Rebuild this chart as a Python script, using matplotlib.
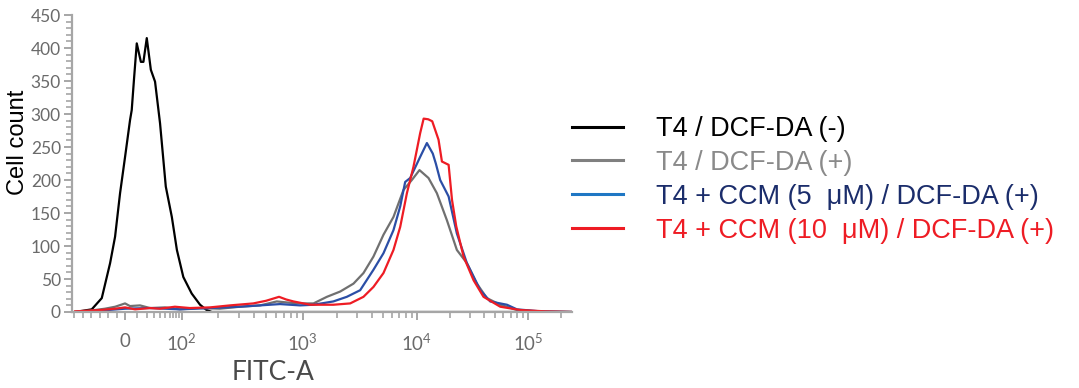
import numpy as np
import matplotlib
matplotlib.use("Agg")
import matplotlib.pyplot as plt
from matplotlib.ticker import FixedLocator, MultipleLocator

# ---------------- data ----------------
labels = ["T4 / DCF-DA (-)",
          "T4 / DCF-DA (+)",
          "T4 + CCM (5  \u03bcM) / DCF-DA (+)",
          "T4 + CCM (10  \u03bcM) / DCF-DA (+)"]

black_x = [-147, -98, -68.5, -44, -29.4, -14.7, 0, 4.1, 5.5, 7.5, 9.9, 13.8, 16.4, 20.1,
           25.1, 31, 39.2, 50.7, 65.8, 81.5, 103, 121, 142, 161, 178, 250, 1000, 250000]
black_y = [0, 4, 21, 74, 114, 180, 235, 291, 306, 354, 407, 379, 379, 415,
           367, 349, 286, 190, 144, 94, 53, 28, 11, 3, 0, 0, 0, 0]

gray_x = [-147, -103, -59, -29, 0, 4, 13, 24, 48.6, 92, 142, 207, 303, 444, 610, 785,
          1012, 1240, 1625, 2125, 2780, 3400, 4160, 5090, 6230, 7630, 9030, 10550,
          12720, 15130, 18630, 22900, 28200, 34700, 42700, 56300, 79600, 116000, 250000]
gray_y = [0, 2, 5, 8, 13, 9, 10, 6, 7, 4, 6, 5, 8, 10, 16, 14,
          13, 13, 23, 31, 43, 59, 84, 117, 144, 185, 200, 215,
          203, 180, 139, 94, 74, 43, 21, 11, 3, 1, 0]

blue_x = [-147, -73.5, 0, 24, 92, 172, 303, 649, 950, 1240, 1850, 2430, 3180, 4160,
          5090, 6230, 7140, 7890, 8730, 10700, 12300, 13900, 14800, 16200, 18000, 19300,
          22900, 28200, 37200, 45700, 64700, 79600, 129000, 250000]
blue_y = [0, 2, 5, 6, 4, 6, 8, 12, 10, 11, 16, 23, 33, 64,
          89, 124, 160, 197, 203, 235, 256, 240, 225, 200, 185, 175,
          119, 74, 33, 16, 11, 4, 1, 0]

red_x = [-147, -73.5, -29, 0, 8.4, 24, 39, 75, 117, 172, 251, 391, 498, 637, 728, 837,
         1160, 1850, 2600, 3400, 4160, 5090, 6230, 7140, 8170, 9330, 10700, 11500,
         12640, 13740, 15660, 16800, 19300, 20700, 22600, 26300, 32400, 39800, 56300,
         85300, 143000, 250000]
red_y = [1, 3, 5, 7, 4, 6, 5, 8, 6, 7, 10, 13, 17, 23, 19, 16,
         11, 11, 13, 23, 38, 59, 94, 129, 180, 220, 271, 293,
         292, 289, 261, 228, 223, 170, 130, 84, 48, 23, 8,
         3, 1, 0]

curve_colors = ["#000000", "#707070", "#2b4ea6", "#ee1c24"]
legend_line_colors = ["#000000", "#808080", "#1f77c4", "#ee1c24"]
legend_text_colors = ["#000000", "#8a8a8a", "#1b2d6b", "#ee1c24"]

major_ticks = [0, 100, 1e3, 1e4, 1e5]
major_labels = ["0", r"$\mathregular{10^2}$", r"$\mathregular{10^3}$",
                r"$\mathregular{10^4}$", r"$\mathregular{10^5}$"]

# ---------------- biexponential-like display scale ----------------
ANCH_V = np.array([0, 100, 1e3, 1e4, 1e5, 262144, 1e9])
ANCH_P = np.array([125, 181.7, 302.7, 416.7, 527.7, 574.0, 971.7])
ANCH_A = np.arcsinh(ANCH_V / 20.0)
NEG_SLOPE = 51.0 / 150.0


def fwd(x):
    x = np.asarray(x, dtype=float)
    a = np.arcsinh(np.clip(x, 0, None) / 20.0)
    p = np.interp(a, ANCH_A, ANCH_P)
    return np.where(x < 0, 125 + x * NEG_SLOPE, p)


def inv(p):
    p = np.asarray(p, dtype=float)
    a = np.interp(p, ANCH_P, ANCH_A)
    return np.where(p < 125, (p - 125) / NEG_SLOPE, 20.0 * np.sinh(a))


plt.rcParams["mathtext.default"] = "regular"

# ---------------- figure ----------------
W, H = 1079, 388
fig = plt.figure(figsize=(W / 100, H / 100), dpi=100)
ax = fig.add_axes([72 / W, 1 - 312 / H, 500 / W, 297 / H])
ax.set_xscale("function", functions=(fwd, inv))

series = [(black_x, black_y), (gray_x, gray_y), (blue_x, blue_y), (red_x, red_y)]
lines = []
for (xs, ys), c, lab in zip(series, curve_colors, labels):
    ln, = ax.plot(xs, ys, color=c, lw=1.6, label=lab, solid_joinstyle="round")
    lines.append(ln)

ax.set_xlim(-156, 250000)
ax.set_ylim(0, 450)

tick_font = "Lato"
axis_gray = "#a6a6a6"
for s in ["top", "right"]:
    ax.spines[s].set_visible(False)
for s in ["left", "bottom"]:
    ax.spines[s].set_color(axis_gray)
    ax.spines[s].set_linewidth(1.6)

ax.xaxis.set_major_locator(FixedLocator(major_ticks))
ax.set_xticklabels(major_labels)
minor = [-25, -50, -75, -100, -125, -150] + list(range(10, 100, 10))
for k in [2, 3, 4]:
    minor += [m * 10 ** k for m in range(2, 10)]
minor += [2e5]
ax.xaxis.set_minor_locator(FixedLocator(minor))

ax.yaxis.set_major_locator(MultipleLocator(50))
ax.yaxis.set_minor_locator(MultipleLocator(10))

ax.tick_params(axis="both", which="major", length=6, width=1.4, color=axis_gray,
               labelsize=12.5, labelcolor="#6a6a6a", pad=2)
ax.tick_params(axis="x", which="major", labelsize=13.5, pad=9)
ax.tick_params(axis="both", which="minor", length=4, width=1.2, color=axis_gray)
for t in ax.get_xticklabels() + ax.get_yticklabels():
    t.set_fontfamily(tick_font)

ax.set_ylabel("Cell count", fontsize=17, family="Liberation Sans", color="black")
ax.yaxis.set_label_coords((29 - 72) / 500, (312 - 142) / 297)
ax.set_xlabel("FITC-A", fontsize=19, family=tick_font, color="#4a4a4a")
ax.xaxis.set_label_coords((273 - 72) / 500, -(372 - 312) / 297)
ax.xaxis.label.set_va("center")

leg = fig.legend(handles=lines, labels=labels, loc="upper left",
                 bbox_to_anchor=(572 / W, 1 - 116 / H), frameon=False,
                 prop={"family": "Liberation Sans", "size": 19.5},
                 handlelength=1.9, handletextpad=1.2, labelspacing=0.29,
                 borderpad=0, borderaxespad=0)
for ln, c in zip(leg.get_lines(), legend_line_colors):
    ln.set_color(c)
    ln.set_linewidth(2.2)
for t, c in zip(leg.get_texts(), legend_text_colors):
    t.set_color(c)

fig.savefig("out.png", dpi=100)
